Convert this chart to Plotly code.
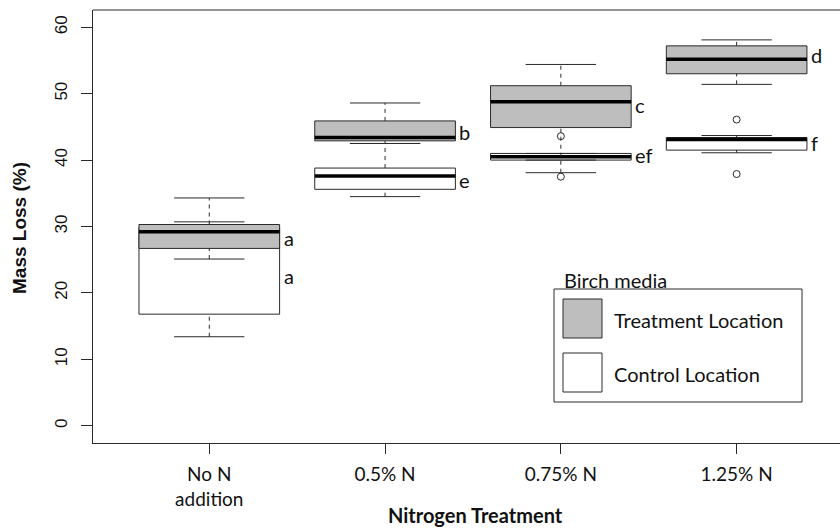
import plotly.graph_objects as go

# Nitrogen treatment groups (x axis)
categories = ["No N<br>addition", "0.5% N", "0.75% N", "1.25% N"]
positions = [1, 2, 3, 4]

legend_title = "Birch media"
series_names = ["Treatment Location", "Control Location"]

# Treatment location (grey boxes): five-number summaries and outliers
trt_lower = [25.1, 42.5, 38.1, 51.4]
trt_q1 = [26.7, 42.9, 44.9, 53.0]
trt_median = [29.2, 43.4, 48.8, 55.2]
trt_q3 = [30.3, 45.9, 51.2, 57.2]
trt_upper = [34.3, 48.6, 54.4, 58.1]
trt_outliers = [[], [], [], [46.1]]

# Control location (white boxes)
ctl_lower = [13.4, 34.5, 40.0, 41.1]
ctl_q1 = [16.8, 35.6, 40.0, 41.5]
ctl_median = [28.0, 37.6, 40.5, 43.1]
ctl_q3 = [29.8, 38.8, 41.0, 43.4]
ctl_upper = [30.7, 42.5, 41.0, 43.7]
ctl_outliers = [[], [], [43.6, 37.5], [37.9]]

# Significance letters placed beside each box
trt_letters = ["a", "b", "c", "d"]
trt_letter_y = [28.3, 44.3, 48.3, 55.8]
ctl_letters = ["a", "e", "ef", "f"]
ctl_letter_y = [22.6, 37.0, 40.7, 42.6]

y_ticks = [0, 10, 20, 30, 40, 50, 60]

GREY = "#BEBEBE"
EDGE = "#2a2a2a"
HALF = 0.4      # half box width
CAP = 0.2       # half staple width
CAL = "Lato"
ARIAL = "Liberation Sans"

W, H = 840, 529
ML, MR, MT, MB = 93, 0, 10, 86
PW, PH = W - ML - MR, H - MT - MB


def px_x(px):
    return (px - ML) / PW


def px_y(py):
    return (H - MB - py) / PH


fig = go.Figure()


def add_series(lower, q1, med, q3, upper, outs, fill):
    bx, by = [], []
    for p, a, b in zip(positions, q1, q3):
        bx += [p - HALF, p + HALF, p + HALF, p - HALF, p - HALF, None]
        by += [a, a, b, b, a, None]
    fig.add_trace(go.Scatter(x=bx, y=by, mode="lines", fill="toself",
                             fillcolor=fill, line=dict(color=EDGE, width=1),
                             hoverinfo="skip", showlegend=False))
    wx, wy = [], []
    for p, lo, a, b, hi in zip(positions, lower, q1, q3, upper):
        wx += [p, p, None, p, p, None]
        wy += [lo, a, None, b, hi, None]
    fig.add_trace(go.Scatter(x=wx, y=wy, mode="lines",
                             line=dict(color=EDGE, width=1, dash="4px,4px"),
                             hoverinfo="skip", showlegend=False))
    cx, cy = [], []
    for p, lo, hi in zip(positions, lower, upper):
        cx += [p - CAP, p + CAP, None, p - CAP, p + CAP, None]
        cy += [lo, lo, None, hi, hi, None]
    fig.add_trace(go.Scatter(x=cx, y=cy, mode="lines",
                             line=dict(color=EDGE, width=1),
                             hoverinfo="skip", showlegend=False))
    mx, my = [], []
    for p, m in zip(positions, med):
        mx += [p - HALF, p + HALF, None]
        my += [m, m, None]
    fig.add_trace(go.Scatter(x=mx, y=my, mode="lines",
                             line=dict(color="black", width=3.5),
                             hoverinfo="skip", showlegend=False))
    ox, oy = [], []
    for p, vals in zip(positions, outs):
        for v in vals:
            ox.append(p)
            oy.append(v)
    if ox:
        fig.add_trace(go.Scatter(x=ox, y=oy, mode="markers",
                                 marker=dict(symbol="circle-open", size=7,
                                             color=EDGE, line=dict(width=1)),
                                 hoverinfo="skip", showlegend=False))


# control drawn first, treatment layered on top
add_series(ctl_lower, ctl_q1, ctl_median, ctl_q3, ctl_upper, ctl_outliers, "white")
add_series(trt_lower, trt_q1, trt_median, trt_q3, trt_upper, trt_outliers, GREY)

annotations = []
for p, t, y in list(zip(positions, trt_letters, trt_letter_y)) + list(zip(positions, ctl_letters, ctl_letter_y)):
    annotations.append(dict(x=p + HALF, y=y, xref="x", yref="y", text=t,
                            showarrow=False, xanchor="left", yanchor="middle",
                            xshift=2, font=dict(family=CAL, size=20, color="#111")))

# axis titles
annotations.append(dict(x=px_x(19), y=px_y(228), xref="paper", yref="paper",
                        text="<b>Mass Loss (%)</b>", textangle=-90, showarrow=False,
                        xanchor="center", yanchor="middle",
                        font=dict(family=ARIAL, size=19, color="#111")))
annotations.append(dict(x=px_x(475), y=px_y(515), xref="paper", yref="paper",
                        text="<b>Nitrogen Treatment</b>", showarrow=False,
                        xanchor="center", yanchor="middle",
                        font=dict(family=CAL, size=20, color="#111")))

# legend
annotations.append(dict(x=px_x(562), y=px_y(280), xref="paper", yref="paper",
                        text=legend_title, showarrow=False, xanchor="left",
                        yanchor="middle",
                        font=dict(family=CAL, size=20, color="#111")))
for name, cy in zip(series_names, [320, 374]):
    annotations.append(dict(x=px_x(612), y=px_y(cy), xref="paper", yref="paper",
                            text=name, showarrow=False, xanchor="left",
                            yanchor="middle",
                            font=dict(family=CAL, size=20, color="#111")))

shapes = [
    # top border of plotting region
    dict(type="line", xref="paper", yref="paper", x0=0, x1=1, y0=1, y1=1,
         line=dict(color=EDGE, width=1)),
    # legend frame and swatches
    dict(type="rect", xref="paper", yref="paper", x0=px_x(554), x1=px_x(802),
         y0=px_y(402), y1=px_y(289), line=dict(color=EDGE, width=1), fillcolor="white"),
    dict(type="rect", xref="paper", yref="paper", x0=px_x(563), x1=px_x(602),
         y0=px_y(338), y1=px_y(299), line=dict(color=EDGE, width=1), fillcolor=GREY),
    dict(type="rect", xref="paper", yref="paper", x0=px_x(563), x1=px_x(602),
         y0=px_y(392), y1=px_y(353), line=dict(color=EDGE, width=1), fillcolor="white"),
]

fig.update_layout(
    width=W, height=H,
    margin=dict(l=ML, r=MR, t=MT, b=MB),
    paper_bgcolor="white", plot_bgcolor="white",
    showlegend=False,
    annotations=annotations,
    shapes=shapes,
    xaxis=dict(range=[0.3385, 4.588], tickmode="array", tickvals=positions,
               ticktext=categories, ticks="outside", ticklen=10, tickcolor=EDGE,
               showline=True, linecolor=EDGE, linewidth=1, showgrid=False,
               zeroline=False, ticklabelstandoff=4,
               tickfont=dict(family=CAL, size=19, color="#111")),
    yaxis=dict(range=[-2.6, 62.6], tickmode="array", tickvals=y_ticks,
               ticks="outside", ticklen=11, tickcolor=EDGE, tickangle=-90,
               showline=True, linecolor=EDGE, linewidth=1, showgrid=False,
               zeroline=False, ticklabelstandoff=7,
               tickfont=dict(family=ARIAL, size=17, color="#111")),
)

fig.write_html("out.html")
